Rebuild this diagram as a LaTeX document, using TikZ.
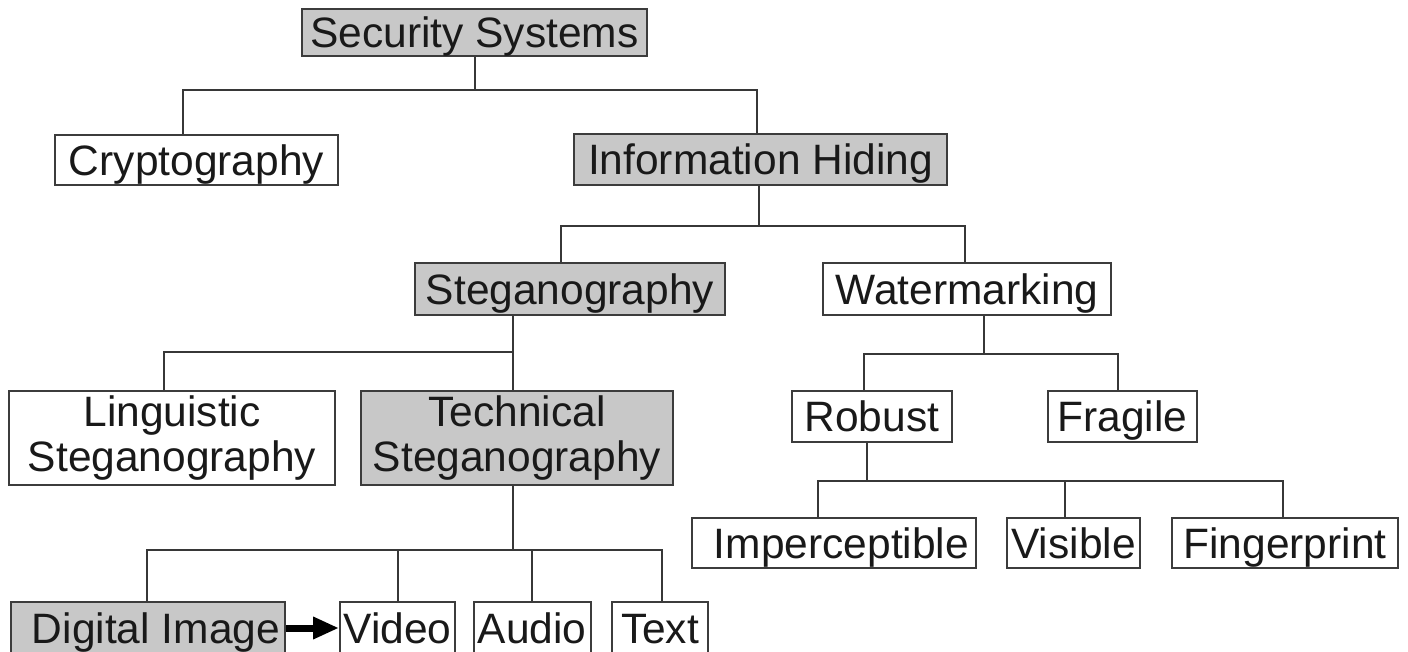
\documentclass[tikz,border=0pt]{standalone}
\usepackage{fontspec}
\setmainfont{Liberation Sans}
\usetikzlibrary{arrows.meta,calc}

\definecolor{boxgray}{RGB}{200,200,200}
\definecolor{edgegray}{RGB}{60,60,60}
\definecolor{linkgray}{RGB}{55,55,55}

\tikzset{
  box/.style={draw=edgegray, line width=2pt, fill=white, rectangle,
    inner sep=0pt, font=\fontsize{42.5}{45}\selectfont, text=black!90},
  oneline/.style={box, text height=30.5pt, text depth=0pt},
  twoline/.style={box, align=center},
  shaded/.style={fill=boxgray},
  link/.style={draw=linkgray, line width=2pt},
  flow/.style={draw=black, line width=7pt,
    -{Triangle[length=26pt,width=21pt]}, shorten >=0pt}
}

\begin{document}
\begin{tikzpicture}[x=1pt,y=-1pt]
  \useasboundingbox (0,0) rectangle (1408,652);
  \fill[white] (0,0) rectangle (1408,652);
  \clip (0,0) rectangle (1408,652);

  % level 0
  \node[oneline, shaded, minimum width=345pt, minimum height=47pt] (ss) at (474.5,32.5) {Security Systems};

  % level 1
  \node[oneline, minimum width=283pt, minimum height=50pt] (crypto) at (196.5,160) {Cryptography};
  \node[oneline, shaded, minimum width=373pt, minimum height=51pt] (info) at (760.5,159.5) {Information Hiding};

  % level 2
  \node[oneline, shaded, minimum width=310pt, minimum height=52pt] (steg) at (570,289) {Steganography};
  \node[oneline, minimum width=288pt, minimum height=52pt] (wm) at (967,289) {Watermarking};

  % level 3
  \node[twoline, minimum width=326pt, minimum height=94pt] (ling) at (172,438) {Linguistic\\Steganography};
  \node[twoline, shaded, minimum width=312pt, minimum height=94pt] (tech) at (517,438) {Technical\\Steganography};
  \node[oneline, minimum width=160pt, minimum height=51pt] (robust) at (872,416) {Robust};
  \node[oneline, minimum width=149pt, minimum height=51pt] (fragile) at (1122.5,416) {Fragile};

  % level 4
  \node[oneline, minimum width=284pt, minimum height=50pt] (imp) at (833.5,543) {\hspace*{16pt}Imperceptible};
  \node[oneline, minimum width=133pt, minimum height=50pt] (vis) at (1073.5,543) {Visible};
  \node[oneline, minimum width=226pt, minimum height=50pt] (fp) at (1285,543) {Fingerprint};

  \node[oneline, shaded, minimum width=274pt, minimum height=52pt] (digital) at (148,628) {\hspace*{16pt}Digital Image};
  \node[oneline, minimum width=115pt, minimum height=52pt] (video) at (397.5,628) {Video};
  \node[oneline, minimum width=117pt, minimum height=52pt] (audio) at (532,628) {Audio};
  \node[oneline, minimum width=96pt, minimum height=52pt] (text) at (660,628) {Text};

  % junction points of the tree
  \path (ss.south) ++(0,33) coordinate (jss);
  \path ([xshift=-2pt]info.south) ++(0,40) coordinate (jinfo);
  \path ([xshift=-4pt]tech.north |- steg.south) coordinate (jstegtop);
  \path (jstegtop) ++(0,36) coordinate (jsteg);
  \path ([xshift=-4pt]tech.south) ++(0,64) coordinate (jtech);
  \path ([xshift=17pt]wm.south) ++(0,38) coordinate (jwm);
  \path ([xshift=-5pt]robust.south) ++(0,38) coordinate (jrob);

  % connectors
  \draw[link] (ss.south) -- (jss);
  \draw[link] ([xshift=-13.5pt]crypto.north) |- (jss) -| ([xshift=-4pt]info.north);

  \draw[link] ([xshift=-2pt]info.south) -- (jinfo);
  \draw[link] ([xshift=-9pt]steg.north) |- (jinfo) -| ([xshift=-2pt]wm.north);

  \draw[link] (jstegtop) -- ([xshift=-4pt]tech.north);
  \draw[link] ([xshift=-8pt]ling.north) |- (jsteg);

  \draw[link] ([xshift=-4pt]tech.south) -- (jtech);
  \draw[link] ([xshift=-1pt]digital.north) |- (jtech) -| ([xshift=2pt]text.north);
  \draw[link] (video.north) -- (video.north |- jtech);
  \draw[link] (audio.north) -- (audio.north |- jtech);

  \draw[link] ([xshift=17pt]wm.south) -- (jwm);
  \draw[link] ([xshift=-8pt]robust.north) |- (jwm) -| ([xshift=-4.5pt]fragile.north);

  \draw[link] ([xshift=-5pt]robust.south) -- (jrob);
  \draw[link] ([xshift=-15.5pt]imp.north) |- (jrob) -| ([xshift=-2pt]fp.north);
  \draw[link] ([xshift=-8.5pt]vis.north) -- ([xshift=-8.5pt]vis.north |- jrob);

  % flow arrow between media types
  \draw[flow] (digital.east) -- (video.west);
\end{tikzpicture}
\end{document}
